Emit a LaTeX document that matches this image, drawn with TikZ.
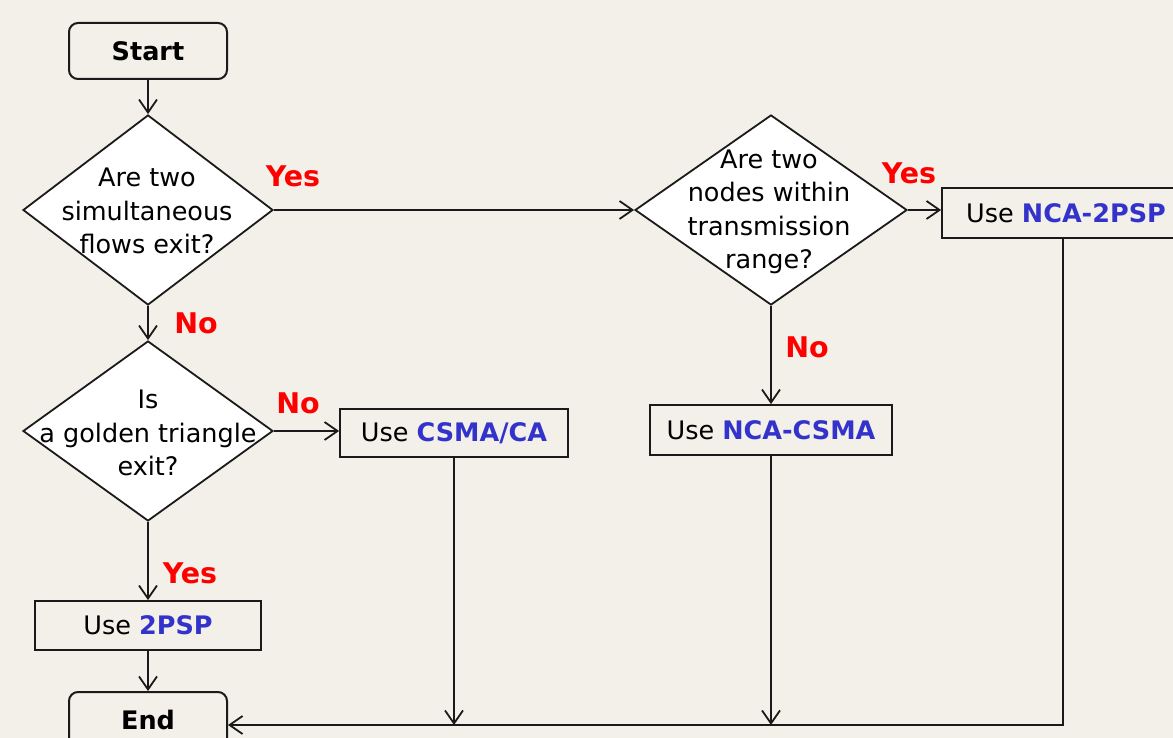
\documentclass[tikz,border=0pt]{standalone}
\usepackage{fontspec}
\setmainfont{DejaVu Sans}
\usetikzlibrary{shapes.geometric,arrows.meta}
\definecolor{bg}{HTML}{F2F0E8}
\definecolor{yesno}{HTML}{FF0000}
\definecolor{algo}{HTML}{3333CC}
\definecolor{ink}{HTML}{1A1A1A}
\tikzset{
  x=1pt, y=-1pt,
  every node/.style={font=\fontsize{25.5}{33.3}\selectfont},
  term/.style={draw=ink, line width=2pt, rounded corners=9pt, minimum width=158pt, inner sep=0pt, font=\fontsize{25.5}{30}\selectfont\bfseries},
  decide/.style={draw=ink, line width=1.8pt, diamond, fill=white, inner sep=0pt},
  qtext/.style={align=center, inner sep=0pt},
  act/.style={draw=ink, line width=1.8pt, inner sep=0pt},
  answer/.style={text=yesno, font=\fontsize{28.5}{30}\selectfont\bfseries, inner sep=0pt},
  flow/.style={draw=ink, line width=1.8pt, -{Straight Barb[length=13pt,width=18pt,line width=1.8pt]}},
}
\newcommand{\algname}[1]{\textcolor{algo}{\bfseries #1}}
\begin{document}
\begin{tikzpicture}
  \fill[bg] (0,0) rectangle (1173,738);
  \useasboundingbox (0,0) rectangle (1173,738);
  \clip (0,0) rectangle (1173,738);

  % terminals
  \node[term, minimum height=56pt] (start) at (148,51) {Start};
  \node[term, minimum height=56pt] (end) at (148,720) {End};

  % decisions
  \node[decide, minimum width=250pt, minimum height=190pt] (d1) at (148,210) {};
  \node[qtext] (q1) at (147,211) {Are two\\simultaneous\\flows exit?};
  \node[decide, minimum width=272pt, minimum height=190pt] (d2) at (771,210) {};
  \node[qtext] (q2) at (769,212) {Are two\\nodes within\\transmission\\range?};
  \node[decide, minimum width=250pt, minimum height=180pt] (d3) at (148,431) {};
  \node[qtext] (q3) at (148,433) {Is\\a golden triangle\\exit?};

  % actions
  \node[act, minimum width=228pt, minimum height=48pt] (csma) at (454,433) {Use \algname{CSMA/CA}};
  \node[act, minimum width=226pt, minimum height=49pt] (twopsp) at (148,625.5) {Use \algname{2PSP}};
  \node[act, minimum width=242pt, minimum height=50pt] (ncacsma) at (771,430) {Use \algname{NCA-CSMA}};
  \node[act, minimum width=248pt, minimum height=50pt] (nca2psp) at (1066,213) {Use \algname{NCA-2PSP}};

  % answer labels
  \node[answer] (y1) at (293,176) {Yes};
  \node[answer] (n1) at (196,323) {No};
  \node[answer] (n3) at (298,403) {No};
  \node[answer] (y3) at (190,573) {Yes};
  \node[answer] (y2) at (909,173) {Yes};
  \node[answer] (n2) at (807,347) {No};

  % connectors
  \coordinate (merge) at ([yshift=-5pt]end.east);
  \draw[flow] (start) -- (d1);
  \draw[flow] (d1.east) -- (d2.west);
  \draw[flow] (d2.east) -- (d2.east -| nca2psp.west);
  \draw[flow] (d2.south) -- (ncacsma.north);
  \draw[flow] (d1.south) -- (d3.north);
  \draw[flow] (d3.east) -- (d3.east -| csma.west);
  \draw[flow] (d3.south) -- (twopsp.north);
  \draw[flow] (twopsp.south) -- (end.north);
  \draw[flow] ([xshift=-3pt]nca2psp.south) |- (merge);
  \draw[flow] (csma.south) -- (csma.south |- merge);
  \draw[flow] (ncacsma.south) -- (ncacsma.south |- merge);
\end{tikzpicture}
\end{document}
